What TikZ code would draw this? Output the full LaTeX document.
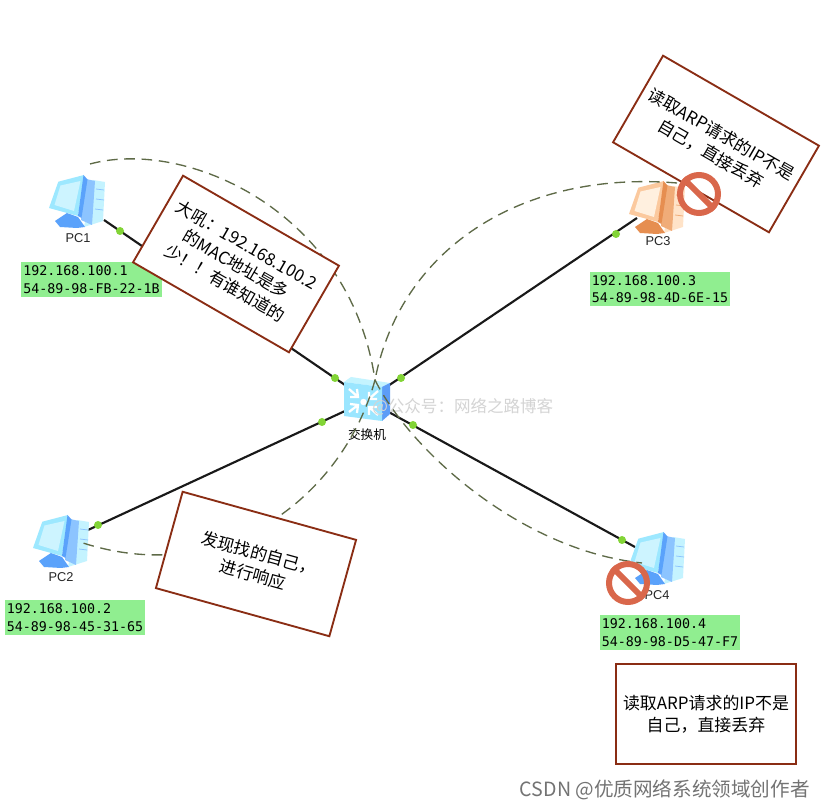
\documentclass[tikz,border=0pt]{standalone}
\usepackage{fontspec}
\setmainfont{Liberation Sans}
\newfontfamily\cjk{Noto Sans CJK SC}
\newfontfamily\monof{DejaVu Sans Mono}
\definecolor{boxred}{HTML}{8A2D14}
\definecolor{dashgreen}{HTML}{5E6A47}
\definecolor{dotgreen}{HTML}{82D436}
\definecolor{ipgreen}{HTML}{90EE90}
\definecolor{signred}{HTML}{D9674B}
\definecolor{swlight}{HTML}{9BE6FF}
\definecolor{swtop}{HTML}{C4F4FF}
\definecolor{swside}{HTML}{5C9DF7}
\definecolor{bluebezel}{HTML}{9DE8FF}
\definecolor{bluescreen}{HTML}{CDF4FF}
\definecolor{bluedark}{HTML}{5AA2FB}
\definecolor{blueside}{HTML}{8CC4FF}
\definecolor{bluefront}{HTML}{C4F3FF}
\definecolor{orgbezel}{HTML}{FBC99E}
\definecolor{orgscreen}{HTML}{FFF0DF}
\definecolor{orgdark}{HTML}{E68E50}
\definecolor{orgside}{HTML}{F0AC78}
\definecolor{orgfront}{HTML}{FFE3C8}
\tikzset{
  x=0.75pt,y=-0.75pt,
  link/.style={draw=black!90,line width=1.6pt},
  arp/.style={draw=dashgreen,line width=1pt,dash pattern=on 8pt off 5pt},
  portdot/.style={circle,fill=dotgreen,draw=none,minimum size=6pt,inner sep=0pt},
  ipbox/.style={fill=ipgreen,inner sep=0pt,minimum width=105pt,minimum height=26pt,align=left,font=\monof\fontsize{10}{13}\selectfont},
  callout/.style={draw=boxred,fill=white,line width=1.4pt,minimum width=135pt,minimum height=75pt,inner sep=0pt,align=center,font=\cjk\fontsize{12.7}{16.5}\selectfont},
  devlabel/.style={font=\fontsize{9.6}{11}\selectfont,text=black!85,inner sep=0pt},
  nosign/.style={circle,draw=signred,line width=4.5pt,minimum size=28.5pt,inner sep=0pt},
  nosignbar/.style={draw=signred,line width=4.5pt},
  marktext/.style={font=\cjk,inner sep=0pt,anchor=west},
}
% #1 origin, #2 bezel, #3 screen, #4 dark band and base, #5 tower side, #6 tower front
\newcommand{\pcicon}[6]{%
  \begin{scope}[shift={(#1)}]
    \fill[#6] (43,5) -- (55,7) -- (53,46) -- (34,52) -- cycle;
    \draw[#5,line width=.6pt] (46,14) -- (54,15) (46,24) -- (54,25) (45,34) -- (53,35);
    \fill[#5] (36,4) -- (45,6) -- (42,50) -- (31,45) -- cycle;
    \fill[#4] (5,46) -- (17,38) -- (28,42) -- (35,52) -- (27,53) -- (10,52) -- cycle;
    \fill[#2] (8.3,6.7) -- (34,0) -- (28,41) -- (-1,33) -- cycle;
    \fill[#3] (10.5,10.5) -- (30.5,6) -- (24,36) -- (4.5,30) -- cycle;
    \fill[#4] (33.5,0) -- (37.5,4.5) -- (31.5,43) -- (28,41) -- cycle;
  \end{scope}}
\begin{document}
\begin{tikzpicture}
\useasboundingbox (0,0) rectangle (826,809);
\fill[white] (0,0) rectangle (826,809);
% link ends
\coordinate (e1a) at (104,220); \coordinate (e1b) at (345,385);
\coordinate (e2a) at (88,530);  \coordinate (e2b) at (345,411);
\coordinate (e3a) at (637,218); \coordinate (e3b) at (382,390);
\coordinate (e4a) at (635,547); \coordinate (e4b) at (385,410);
\path[link] (e1a) -- (e1b);
\path[link] (e2a) -- (e2b);
\path[link] (e3a) -- (e3b);
\path[link] (e4a) -- (e4b);
% dots
\node[portdot] (d1a) at (120,231) {};
\node[portdot] (d1b) at (335,378) {};
\node[portdot] (d2a) at (98,525) {};
\node[portdot] (d2b) at (322,422) {};
\node[portdot] (d3a) at (616,234) {};
\node[portdot] (d3b) at (401,378) {};
\node[portdot] (d4a) at (622,540) {};
\node[portdot] (d4b) at (413,425) {};
% devices
\pcicon{50,175}{bluebezel}{bluescreen}{bluedark}{blueside}{bluefront}
\pcicon{34,515}{bluebezel}{bluescreen}{bluedark}{blueside}{bluefront}
\pcicon{630,181}{orgbezel}{orgscreen}{orgdark}{orgside}{orgfront}
\pcicon{630,532}{bluebezel}{bluescreen}{bluedark}{blueside}{bluefront}
\node[devlabel] (pc1) at (78,238) {PC1};
\node[devlabel] (pc2) at (61,577) {PC2};
\node[devlabel] (pc3) at (658,241) {PC3};
\node[devlabel] (pc4) at (657,595) {PC4};
% switch
\fill[swtop] (344,382) -- (351,377) -- (390,383) -- (382,387) -- cycle;
\fill[swside] (382,387) -- (390,383) -- (390,414) -- (382,421) -- cycle;
\fill[swlight] (344,382) -- (382,387) -- (382,421) -- (344,416) -- cycle;
\draw[white,line width=1.7pt]
  (349,389) -- (358,397) (350,397) -- (358,397) -- (357,389)
  (349,412) -- (358,405) (350,404) -- (358,405) -- (357,413)
  (378,391) -- (369,399) (369,392) -- (369,399) -- (377,399)
  (378,415) -- (369,407) (369,415) -- (369,407) -- (377,407);
\fill[white] (363.5,402) circle[radius=2.4pt];
\node[font=\cjk\fontsize{9.5}{11}\selectfont,inner sep=0pt] (sw) at (367,435) {交换机};
% watermark
\node[marktext,text=black!17,font=\cjk\fontsize{12.4}{14}\selectfont] (wm) at (372,407) {@公众号：网络之路博客};
% arp arcs
\coordinate (hub) at (375,380);
\coordinate (a1) at (90,164);
\coordinate (a2) at (83,543);
\coordinate (a3) at (677,183);
\coordinate (a4) at (642,563);
\draw[arp] (a1) .. controls (185,138) and (350,210) .. (hub);
\draw[arp] (a3) .. controls (520,170) and (400,250) .. (hub);
\draw[arp] (hub) .. controls (345,490) and (230,590) .. (a2);
\draw[arp] (hub) .. controls (410,450) and (520,550) .. (a4);
% ip labels
\node[ipbox,minimum width=105.5pt] (ip1) at (91.5,279.5) {192.168.100.1\\54-89-98-FB-22-1B};
\node[ipbox] (ip2) at (75,617.5) {192.168.100.2\\54-89-98-45-31-65};
\node[ipbox] (ip3) at (660,289) {192.168.100.3\\54-89-98-4D-6E-15};
\node[ipbox] (ip4) at (670,632.5) {192.168.100.4\\54-89-98-D5-47-F7};
% callouts
\node[callout,rotate=-30] (c1) at (236,264) {大吼：192.168.100.2\\的MAC地址是多\\少！！有谁知道的};
\node[callout,rotate=-30] (c3) at (716,144) {读取ARP请求的IP不是\\自己，直接丢弃};
\node[callout,rotate=-15.5] (c2) at (256,564) {发现找的自己，\\进行响应};
\node[callout] (c4) at (706,714) {读取ARP请求的IP不是\\自己，直接丢弃};
% no-entry signs
\node[nosign] (s3) at (699,194) {};
\draw[nosignbar] (s3.north west) -- (s3.south east);
\node[nosign] (s4) at (628,583) {};
\draw[nosignbar] (s4.north west) -- (s4.south east);
% credit
\node[marktext,anchor=east,text=black!55,font=\cjk\fontsize{14.7}{17}\selectfont] (credit) at (810,790) {CSDN @优质网络系统领域创作者};
\end{tikzpicture}
\end{document}
